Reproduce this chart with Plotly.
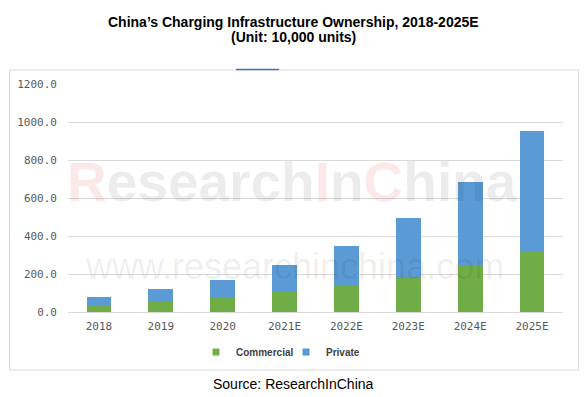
import plotly.graph_objects as go

categories = ["2018", "2019", "2020", "2021E", "2022E", "2023E", "2024E", "2025E"]
commercial = [33, 55, 78, 105, 135, 181, 241, 318]
private = [45, 65, 89, 140, 215, 314, 441, 634]
y_ticks = [0, 200, 400, 600, 800, 1000, 1200]

GREEN = "#70AD47"
BLUE = "#5B9BD5"
GRID = "#D9D9D9"
TICK = "#595959"

fig = go.Figure()
fig.add_trace(go.Bar(x=categories, y=commercial, name="Commercial",
                     marker=dict(color=GREEN, line=dict(width=0)), showlegend=False))
fig.add_trace(go.Bar(x=categories, y=private, name="Private",
                     marker=dict(color=BLUE, line=dict(width=0)), showlegend=False))
# legend entries with small square swatches
fig.add_trace(go.Scatter(x=[None], y=[None], mode="markers", name="Commercial",
                         marker=dict(symbol="square", size=7, color=GREEN), legend="legend"))
fig.add_trace(go.Scatter(x=[None], y=[None], mode="markers", name="Private",
                         marker=dict(symbol="square", size=7, color=BLUE), legend="legend2"))

L, R, T, B = 68, 22, 84, 85
W, H = 585, 397
pw, ph = W - L - R, H - T - B

def px(xp):
    return (xp - L) / pw

def py(yp):
    return (H - B - yp) / ph

legend_font = dict(family="Liberation Sans, Arial, sans-serif", size=10, color="#404040",
                   weight="bold")

fig.update_layout(
    width=W, height=H,
    margin=dict(l=L, r=R, t=T, b=B, pad=0, autoexpand=False),
    paper_bgcolor="white", plot_bgcolor="white",
    barmode="stack", bargap=0.6,
    font=dict(family="Liberation Sans, Arial, sans-serif"),
    xaxis=dict(type="category", showgrid=False, showline=False, zeroline=False,
               ticks="", ticklabelstandoff=6,
               tickfont=dict(family="DejaVu Sans Mono, monospace", size=11, color=TICK)),
    yaxis=dict(range=[0, 1200], tickvals=y_ticks, tickformat=".1f",
               showgrid=True, gridcolor=GRID, gridwidth=1,
               zeroline=True, zerolinecolor=GRID, zerolinewidth=1,
               showline=False, ticks="", ticklabelstandoff=10,
               tickfont=dict(family="DejaVu Sans Mono, monospace", size=11, color=TICK)),
    legend=dict(orientation="h", x=px(196), xanchor="left", y=py(352), yanchor="middle",
                font=legend_font, bgcolor="rgba(0,0,0,0)", borderwidth=0, itemclick=False),
    legend2=dict(orientation="h", x=px(286), xanchor="left", y=py(352), yanchor="middle",
                 font=legend_font, bgcolor="rgba(0,0,0,0)", borderwidth=0, itemclick=False),
    showlegend=True,
)

fig.add_shape(type="rect", xref="paper", yref="paper",
              x0=px(9.5), x1=px(578.5), y0=py(370), y1=py(70),
              line=dict(color=GRID, width=1), fillcolor="rgba(0,0,0,0)", layer="below")
fig.add_shape(type="line", xref="paper", yref="paper",
              x0=px(236), x1=px(279), y0=py(69.5), y1=py(69.5),
              line=dict(color="#4472C4", width=1.5))

# watermark
wm_gray = "rgba(0,0,0,0.075)"
red_style = "color:rgb(230,0,0);fill-opacity:0.09"
big = ("<span style='%s'>R</span>esearch<span style='%s'>I</span>n"
       "<span style='%s'>C</span>hina") % (red_style, red_style, red_style)
fig.add_annotation(text=big, xref="paper", yref="paper", x=px(292), y=py(182),
                   xanchor="center", yanchor="middle", showarrow=False,
                   font=dict(family="Liberation Sans, Arial, sans-serif",
                             size=55, color=wm_gray, weight="bold"))
fig.add_annotation(text="www.researchinchina.com", xref="paper", yref="paper",
                   x=px(294), y=py(266), xanchor="center", yanchor="middle", showarrow=False,
                   font=dict(family="Liberation Sans, Arial, sans-serif", size=36, color=wm_gray))

# titles and source
fig.add_annotation(text="<b>China’s Charging Infrastructure Ownership, 2018-2025E</b>",
                   xref="paper", yref="paper", x=px(293.5), y=py(21.7),
                   xanchor="center", yanchor="middle", showarrow=False,
                   font=dict(family="Liberation Sans, Arial, sans-serif", size=14, color="black"))
fig.add_annotation(text="<b>(Unit: 10,000 units)</b>",
                   xref="paper", yref="paper", x=px(293.5), y=py(37.5),
                   xanchor="center", yanchor="middle", showarrow=False,
                   font=dict(family="Liberation Sans, Arial, sans-serif", size=14, color="black"))
fig.add_annotation(text="Source: ResearchInChina",
                   xref="paper", yref="paper", x=px(293.5), y=py(383.5),
                   xanchor="center", yanchor="middle", showarrow=False,
                   font=dict(family="Liberation Sans, Arial, sans-serif", size=14, color="black"))

fig.write_html("out.html", config={"displayModeBar": False},
               post_script="document.body.style.margin='0';document.body.style.padding='0';")
